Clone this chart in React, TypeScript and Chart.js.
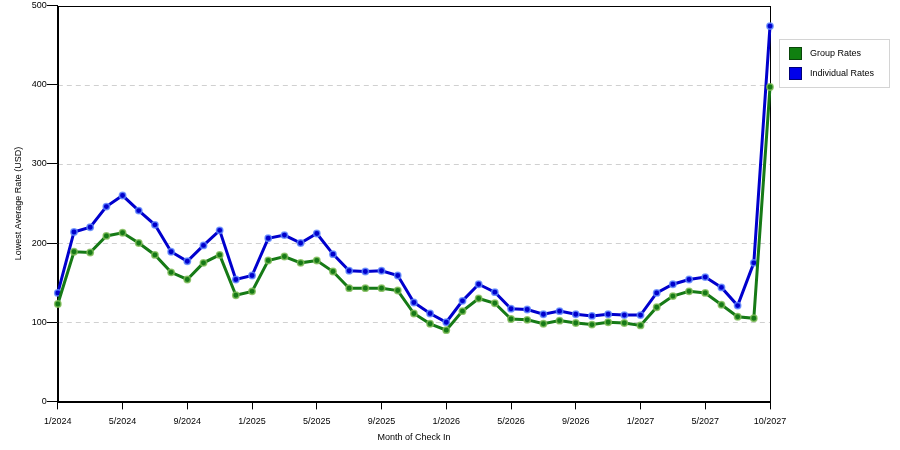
import { useEffect, useRef } from 'react';
import { Chart, registerables } from 'chart.js';

Chart.register(...registerables);

// month of check in (the source chart has no 9/2027 label, last point is labelled 10/2027)
const months = [
  '1/2024', '2/2024', '3/2024', '4/2024', '5/2024', '6/2024', '7/2024', '8/2024', '9/2024', '10/2024', '11/2024', '12/2024',
  '1/2025', '2/2025', '3/2025', '4/2025', '5/2025', '6/2025', '7/2025', '8/2025', '9/2025', '10/2025', '11/2025', '12/2025',
  '1/2026', '2/2026', '3/2026', '4/2026', '5/2026', '6/2026', '7/2026', '8/2026', '9/2026', '10/2026', '11/2026', '12/2026',
  '1/2027', '2/2027', '3/2027', '4/2027', '5/2027', '6/2027', '7/2027', '8/2027', '10/2027',
];

const groupRates = [
  123, 189, 188, 209, 213, 200, 185, 163, 154, 175, 185, 134,
  139, 178, 183, 175, 178, 164, 143, 143, 143, 140, 111, 98,
  90, 114, 130, 124, 104, 103, 98, 102, 99, 97, 100, 99,
  96, 119, 133, 139, 137, 122, 107, 105, 397,
];

const individualRates = [
  137, 214, 220, 246, 260, 241, 223, 189, 177, 197, 216, 154,
  159, 206, 210, 200, 212, 186, 165, 164, 165, 159, 125, 111,
  100, 127, 148, 138, 117, 116, 110, 114, 110, 108, 110, 109,
  109, 137, 148, 154, 157, 144, 121, 175, 474,
];

const yTicks = [0, 100, 200, 300, 400, 500];

const FONT = 'Liberation Sans, Arial, sans-serif';

const showTick = (i: number) => i % 4 === 0 || i === months.length - 1;

// box round the plot and dashed grid lines
const framePlugin = {
  id: 'frame',
  beforeDatasetsDraw(chart: any) {
    const { ctx, chartArea } = chart;
    const y = chart.scales.y;
    ctx.save();
    ctx.strokeStyle = '#d0d0d0';
    ctx.lineWidth = 1;
    ctx.setLineDash([5, 4]);
    yTicks.slice(1, -1).forEach((v) => {
      const py = Math.round(y.getPixelForValue(v)) + 0.5;
      ctx.beginPath();
      ctx.moveTo(chartArea.left, py);
      ctx.lineTo(chartArea.right, py);
      ctx.stroke();
    });
    ctx.setLineDash([]);
    ctx.strokeStyle = '#000';
    ctx.strokeRect(
      Math.round(chartArea.left) + 0.5,
      Math.round(chartArea.top) + 0.5,
      Math.round(chartArea.right - chartArea.left),
      Math.round(chartArea.bottom - chartArea.top)
    );
    ctx.restore();
  },
};

const legendBox = {
  id: 'legendBox',
  afterDraw(chart: any) {
    const { ctx } = chart;
    const x = 779.5;
    const y = 39.5;
    ctx.save();
    ctx.fillStyle = '#fff';
    ctx.fillRect(x, y, 110, 48);
    ctx.strokeStyle = '#d4d4d4';
    ctx.lineWidth = 1;
    ctx.strokeRect(x, y, 110, 48);
    ctx.font = `9px ${FONT}`;
    ctx.textBaseline = 'middle';
    chart.data.datasets.forEach((ds: any, i: number) => {
      const sy = 47 + i * 20;
      ctx.fillStyle = ds.swatch;
      ctx.fillRect(789, sy, 13, 13);
      ctx.strokeStyle = ds.swatchEdge;
      ctx.strokeRect(789.5, sy + 0.5, 12, 12);
      ctx.fillStyle = '#000';
      ctx.fillText(ds.label, 810, sy + 7);
    });
    ctx.restore();
  },
};

const RatesChart = () => {
  const chartRef = useRef<HTMLCanvasElement | null>(null);

  useEffect(() => {
    const ctx = chartRef.current?.getContext('2d');
    if (!ctx) return;

    const myChart = new Chart(ctx, {
      type: 'line',
      data: {
        labels: months,
        datasets: [
          {
            label: 'Group Rates',
            data: groupRates,
            borderColor: 'rgb(22,122,22)',
            borderWidth: 3,
            pointRadius: 3.2,
            pointBackgroundColor: 'rgb(22,122,22)',
            pointBorderColor: 'rgba(130,190,90,0.8)',
            pointBorderWidth: 1.5,
            tension: 0,
            swatch: 'rgb(16,128,16)',
            swatchEdge: 'rgb(10,70,10)',
          } as any,
          {
            label: 'Individual Rates',
            data: individualRates,
            borderColor: 'rgb(0,0,205)',
            borderWidth: 3,
            pointRadius: 3.2,
            pointBackgroundColor: 'rgb(0,0,205)',
            pointBorderColor: 'rgba(100,140,255,0.8)',
            pointBorderWidth: 1.5,
            tension: 0,
            swatch: 'rgb(0,0,235)',
            swatchEdge: 'rgb(0,0,120)',
          } as any,
        ],
      },
      options: {
        responsive: false,
        animation: false,
        layout: { padding: { top: 0, right: 130, left: 13, bottom: 7 } },
        plugins: {
          legend: { display: false },
          tooltip: { enabled: false },
        },
        scales: {
          x: {
            type: 'category',
            offset: false,
            border: { display: true, color: '#000', width: 1 },
            grid: {
              drawOnChartArea: false,
              drawTicks: true,
              tickLength: 8,
              tickColor: (c: any) => (showTick(c.index) ? '#000' : 'rgba(0,0,0,0)'),
            },
            ticks: {
              autoSkip: false,
              maxRotation: 0,
              padding: 7,
              color: '#000',
              font: { family: FONT, size: 9 },
              callback: (_v: any, i: number) => (showTick(i) ? months[i] : ''),
            },
            title: {
              display: true,
              text: 'Month of Check In',
              color: '#000',
              font: { family: FONT, size: 9 },
              padding: { top: -2, bottom: 0 },
            },
          },
          y: {
            type: 'linear',
            min: 0,
            max: 500,
            border: { display: true, color: '#000', width: 1 },
            grid: {
              drawOnChartArea: false,
              drawTicks: true,
              tickLength: 11,
              tickColor: '#000',
            },
            afterBuildTicks: (s: any) => {
              s.ticks = yTicks.map((v) => ({ value: v }));
            },
            ticks: {
              padding: 0,
              color: '#000',
              font: { family: FONT, size: 9 },
            },
            title: {
              display: true,
              text: 'Lowest Average Rate (USD)',
              color: '#000',
              font: { family: FONT, size: 9 },
              padding: { top: 0, bottom: 8 },
            },
          },
        },
      },
      plugins: [framePlugin, legendBox],
    });

    return () => {
      myChart.destroy();
    };
  }, []);

  return (
    <div style={{ position: 'absolute', left: 0, top: 0, width: 900, height: 450, background: '#fff' }}>
      <canvas ref={chartRef} id="rates-chart" width={900} height={450} />
    </div>
  );
};

export default RatesChart;
